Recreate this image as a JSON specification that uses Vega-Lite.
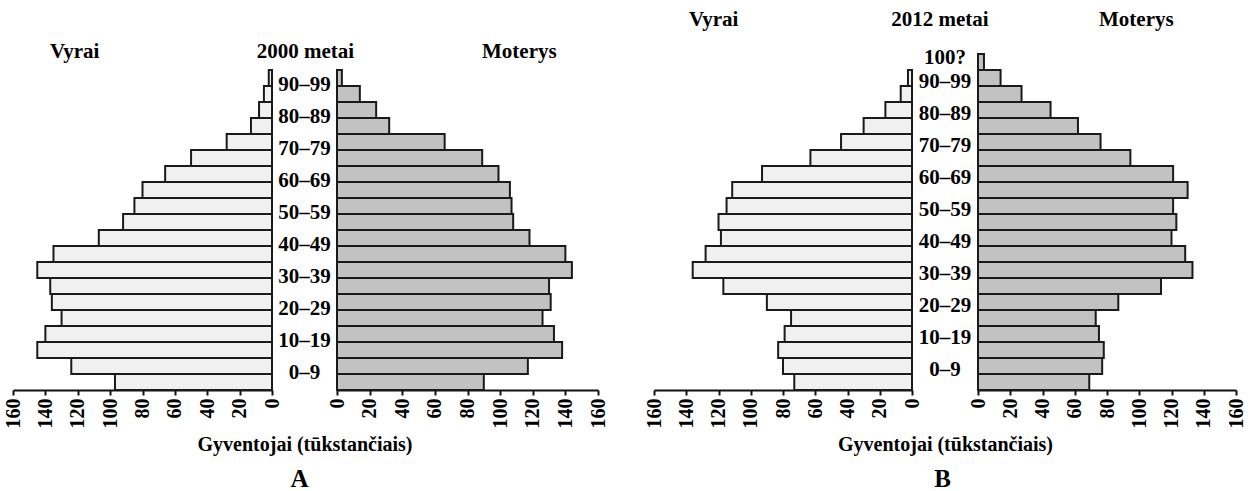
{
  "$schema": "https://vega.github.io/schema/vega-lite/v6.json",
  "background": "white",
  "padding": {"left": 3, "top": 8, "right": 0, "bottom": 0},
  "autosize": {"type": "pad"},
  "config": {
    "font": "Liberation Serif",
    "view": {"stroke": null},
    "axis": {
      "grid": false,
      "domainColor": "#111111",
      "domainWidth": 2,
      "tickColor": "#111111",
      "tickWidth": 2,
      "tickSize": 5,
      "labelFont": "Liberation Serif",
      "labelFontWeight": "bold",
      "labelFontSize": 20,
      "labelColor": "black",
      "labelPadding": 3,
      "labelFlush": false,
      "labelOverlap": false,
      "titleFont": "Liberation Serif",
      "titleFontWeight": "bold",
      "titleFontSize": 20,
      "titleColor": "black"
    },
    "title": {"font": "Liberation Serif", "fontWeight": "bold", "fontSize": 21, "color": "black"}
  },
  "datasets": {
    "popA": [
      {"lo": 0, "hi": 5, "male": 97, "female": 90},
      {"lo": 5, "hi": 10, "male": 124, "female": 117},
      {"lo": 10, "hi": 15, "male": 145, "female": 138},
      {"lo": 15, "hi": 20, "male": 140, "female": 133},
      {"lo": 20, "hi": 25, "male": 130, "female": 126},
      {"lo": 25, "hi": 30, "male": 136, "female": 131},
      {"lo": 30, "hi": 35, "male": 137, "female": 130},
      {"lo": 35, "hi": 40, "male": 145, "female": 144},
      {"lo": 40, "hi": 45, "male": 135, "female": 140},
      {"lo": 45, "hi": 50, "male": 107, "female": 118},
      {"lo": 50, "hi": 55, "male": 92, "female": 108},
      {"lo": 55, "hi": 60, "male": 85, "female": 107},
      {"lo": 60, "hi": 65, "male": 80, "female": 106},
      {"lo": 65, "hi": 70, "male": 66, "female": 99},
      {"lo": 70, "hi": 75, "male": 50, "female": 89},
      {"lo": 75, "hi": 80, "male": 28, "female": 66},
      {"lo": 80, "hi": 85, "male": 13, "female": 32},
      {"lo": 85, "hi": 90, "male": 8, "female": 24},
      {"lo": 90, "hi": 95, "male": 5, "female": 14},
      {"lo": 95, "hi": 100, "male": 2, "female": 3}
    ],
    "popB": [
      {"lo": 0, "hi": 5, "male": 73, "female": 69},
      {"lo": 5, "hi": 10, "male": 80, "female": 77},
      {"lo": 10, "hi": 15, "male": 83, "female": 78},
      {"lo": 15, "hi": 20, "male": 79, "female": 75},
      {"lo": 20, "hi": 25, "male": 75, "female": 73},
      {"lo": 25, "hi": 30, "male": 90, "female": 87},
      {"lo": 30, "hi": 35, "male": 117, "female": 113.5},
      {"lo": 35, "hi": 40, "male": 136, "female": 133},
      {"lo": 40, "hi": 45, "male": 128, "female": 128.5},
      {"lo": 45, "hi": 50, "male": 118.5, "female": 120},
      {"lo": 50, "hi": 55, "male": 120, "female": 123},
      {"lo": 55, "hi": 60, "male": 115, "female": 121},
      {"lo": 60, "hi": 65, "male": 111.5, "female": 130},
      {"lo": 65, "hi": 70, "male": 93, "female": 121},
      {"lo": 70, "hi": 75, "male": 63, "female": 94.5},
      {"lo": 75, "hi": 80, "male": 44, "female": 76},
      {"lo": 80, "hi": 85, "male": 30, "female": 62},
      {"lo": 85, "hi": 90, "male": 16.5, "female": 45},
      {"lo": 90, "hi": 95, "male": 7, "female": 27},
      {"lo": 95, "hi": 100, "male": 2.5, "female": 14},
      {"lo": 100, "hi": 105, "male": null, "female": 3.7}
    ],
    "labA": [
      {"pos": 5, "label": "0–9"},
      {"pos": 15, "label": "10–19"},
      {"pos": 25, "label": "20–29"},
      {"pos": 35, "label": "30–39"},
      {"pos": 45, "label": "40–49"},
      {"pos": 55, "label": "50–59"},
      {"pos": 65, "label": "60–69"},
      {"pos": 75, "label": "70–79"},
      {"pos": 85, "label": "80–89"},
      {"pos": 95, "label": "90–99"}
    ],
    "labB": [
      {"pos": 5, "label": "0–9"},
      {"pos": 15, "label": "10–19"},
      {"pos": 25, "label": "20–29"},
      {"pos": 35, "label": "30–39"},
      {"pos": 45, "label": "40–49"},
      {"pos": 55, "label": "50–59"},
      {"pos": 65, "label": "60–69"},
      {"pos": 75, "label": "70–79"},
      {"pos": 85, "label": "80–89"},
      {"pos": 95, "label": "90–99"},
      {"pos": 102.5, "label": "100?"}
    ]
  },
  "bounds": "flush",
  "spacing": 0,
  "hconcat": [
    {
      "data": {"name": "popA"},
      "width": 259,
      "height": 336,
      "title": {"text": "Vyrai", "anchor": "start", "frame": "group", "dx": 37, "offset": -19, "baseline": "middle"},
      "mark": {"type": "rect", "fill": "#f0f0f0", "stroke": "#1a1a1a", "strokeWidth": 2},
      "encoding": {
        "y": {"field": "lo", "type": "quantitative", "scale": {"domain": [0, 105], "nice": false, "zero": false}, "axis": null},
        "y2": {"field": "hi"},
        "x": {"field": "male", "type": "quantitative", "scale": {"domain": [0, 160], "reverse": true, "nice": false}, "axis": {"values": [0, 20, 40, 60, 80, 100, 120, 140, 160], "title": null, "labelAngle": -90}},
        "x2": {"datum": 0}
      }
    },
    {
      "width": 65,
      "height": 336,
      "title": {"text": "2000 metai", "anchor": "middle", "frame": "group", "offset": -19, "dx": 1, "baseline": "middle"},
      "layer": [
        {
          "data": {"name": "labA"},
          "mark": {"type": "text", "font": "Liberation Serif", "fontWeight": "bold", "fontSize": 21, "align": "center", "baseline": "middle", "dy": -1, "color": "black"},
          "encoding": {
            "y": {"field": "pos", "type": "quantitative", "scale": {"domain": [0, 105], "nice": false, "zero": false}, "axis": null},
            "x": {"datum": 0, "type": "quantitative", "scale": {"domain": [-1, 1]}, "axis": {"orient": "bottom", "title": "Gyventojai (tūkstančiais)", "labels": false, "ticks": false, "domain": false, "titlePadding": 44}},
            "text": {"field": "label"}
          }
        },
        {
          "data": {"values": [{"name": "A"}]},
          "mark": {"type": "text", "opacity": 0},
          "encoding": {
            "x": {"datum": 0, "type": "quantitative", "scale": {"domain": [-1, 1]}, "axis": {"orient": "bottom", "title": "A", "titleFontSize": 25, "labels": false, "ticks": false, "domain": false, "titlePadding": 76, "titleX": 27}},
            "text": {"field": "name"}
          }
        }
      ],
      "resolve": {"scale": {"x": "independent"}, "axis": {"x": "independent"}}
    },
    {
      "data": {"name": "popA"},
      "width": 261,
      "height": 336,
      "title": {"text": "Moterys", "anchor": "start", "frame": "group", "dx": 145, "offset": -19, "baseline": "middle"},
      "mark": {"type": "rect", "fill": "#c2c2c2", "stroke": "#1a1a1a", "strokeWidth": 2},
      "encoding": {
        "y": {"field": "lo", "type": "quantitative", "scale": {"domain": [0, 105], "nice": false, "zero": false}, "axis": null},
        "y2": {"field": "hi"},
        "x": {"field": "female", "type": "quantitative", "scale": {"domain": [0, 160], "nice": false}, "axis": {"values": [0, 20, 40, 60, 80, 100, 120, 140, 160], "title": null, "labelAngle": -90}},
        "x2": {"datum": 0}
      }
    },
    {
      "data": {"values": [{"name": ""}]},
      "width": 56,
      "height": 336,
      "mark": {"type": "text", "opacity": 0},
      "encoding": {"text": {"field": "name"}}
    },
    {
      "data": {"name": "popB"},
      "width": 258,
      "height": 336,
      "title": {"text": "Vyrai", "anchor": "start", "frame": "group", "dx": 35, "offset": 13, "baseline": "middle"},
      "mark": {"type": "rect", "fill": "#f0f0f0", "stroke": "#1a1a1a", "strokeWidth": 2},
      "encoding": {
        "y": {"field": "lo", "type": "quantitative", "scale": {"domain": [0, 105], "nice": false, "zero": false}, "axis": null},
        "y2": {"field": "hi"},
        "x": {"field": "male", "type": "quantitative", "scale": {"domain": [0, 160], "reverse": true, "nice": false}, "axis": {"values": [0, 20, 40, 60, 80, 100, 120, 140, 160], "title": null, "labelAngle": -90}},
        "x2": {"datum": 0}
      }
    },
    {
      "width": 66,
      "height": 336,
      "title": {"text": "2012 metai", "anchor": "middle", "frame": "group", "offset": 6.5, "dx": -5, "baseline": "middle"},
      "layer": [
        {
          "data": {"name": "labB"},
          "mark": {"type": "text", "font": "Liberation Serif", "fontWeight": "bold", "fontSize": 21, "align": "center", "baseline": "middle", "dy": -4, "color": "black"},
          "encoding": {
            "y": {"field": "pos", "type": "quantitative", "scale": {"domain": [0, 105], "nice": false, "zero": false}, "axis": null},
            "x": {"datum": 0, "type": "quantitative", "scale": {"domain": [-1, 1]}, "axis": {"orient": "bottom", "title": "Gyventojai (tūkstančiais)", "labels": false, "ticks": false, "domain": false, "titlePadding": 44}},
            "text": {"field": "label"}
          }
        },
        {
          "data": {"values": [{"name": "B"}]},
          "mark": {"type": "text", "opacity": 0},
          "encoding": {
            "x": {"datum": 0, "type": "quantitative", "scale": {"domain": [-1, 1]}, "axis": {"orient": "bottom", "title": "B", "titleFontSize": 25, "labels": false, "ticks": false, "domain": false, "titlePadding": 76, "titleX": 30}},
            "text": {"field": "name"}
          }
        }
      ],
      "resolve": {"scale": {"x": "independent"}, "axis": {"x": "independent"}}
    },
    {
      "data": {"name": "popB"},
      "width": 258,
      "height": 336,
      "title": {"text": "Moterys", "anchor": "start", "frame": "group", "dx": 121, "offset": 12, "baseline": "middle"},
      "mark": {"type": "rect", "fill": "#c2c2c2", "stroke": "#1a1a1a", "strokeWidth": 2},
      "encoding": {
        "y": {"field": "lo", "type": "quantitative", "scale": {"domain": [0, 105], "nice": false, "zero": false}, "axis": null},
        "y2": {"field": "hi"},
        "x": {"field": "female", "type": "quantitative", "scale": {"domain": [0, 160], "nice": false}, "axis": {"values": [0, 20, 40, 60, 80, 100, 120, 140, 160], "title": null, "labelAngle": -90}},
        "x2": {"datum": 0}
      }
    }
  ]
}
